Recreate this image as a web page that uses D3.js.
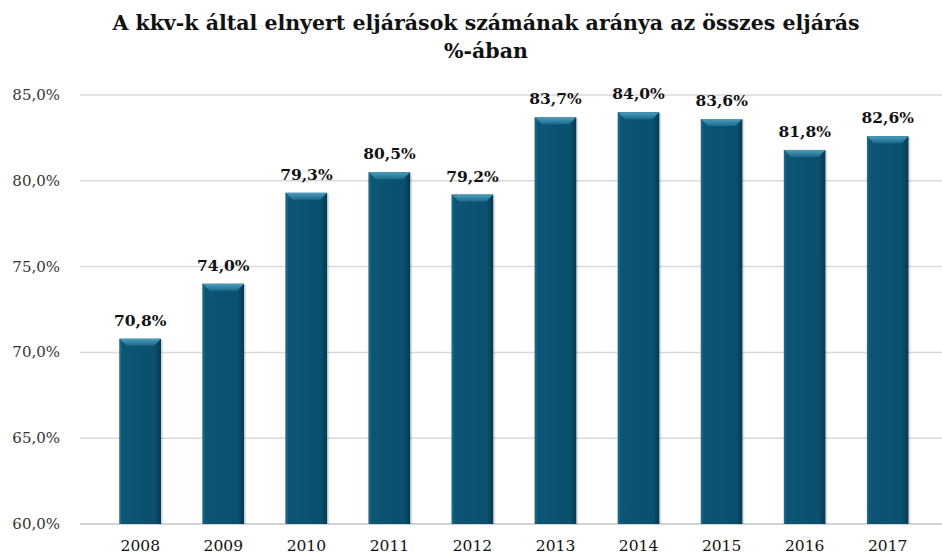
<!DOCTYPE html>
<html>
<head>
<meta charset="utf-8">
<script src="https://cdn.jsdelivr.net/npm/d3@7"></script>
<style>
  html, body { margin: 0; padding: 0; background: #fff; overflow: hidden; }
  svg { display: block; }
  svg text { font-family: "DejaVu Serif", "Liberation Serif", serif; }
</style>
</head>
<body>
<div id="chart"></div>
<script>
// Data
var years = ["2008", "2009", "2010", "2011", "2012", "2013", "2014", "2015", "2016", "2017"];
var shares = [70.8, 74.0, 79.3, 80.5, 79.2, 83.7, 84.0, 83.6, 81.8, 82.6];
var yTicks = [60, 65, 70, 75, 80, 85];
var titleLines = ["A kkv-k által elnyert eljárások számának aránya az összes eljárás", "%-ában"];

var width = 942, height = 557;
// plot area runs a bit past the right edge, like the original
var margin = { top: 95, left: 78 };
var innerWidth = 872;
var innerHeight = 429;

var fmt = function (v) { return v.toFixed(1).replace(".", ",") + "%"; };

var svg = d3.select("#chart").append("svg")
    .attr("width", width)
    .attr("height", height);

// gradients for the bevelled bar look
var defs = svg.append("defs");
var bevel = defs.append("linearGradient").attr("id", "bevel")
    .attr("x1", 0).attr("y1", 0).attr("x2", 0).attr("y2", 1);
bevel.append("stop").attr("offset", "0%").attr("stop-color", "#4d9dbb");
bevel.append("stop").attr("offset", "100%").attr("stop-color", "#1a6a8b");

var side = defs.append("linearGradient").attr("id", "side")
    .attr("x1", 0).attr("y1", 0).attr("x2", 1).attr("y2", 0);
side.append("stop").attr("offset", "0%").attr("stop-color", "#0c5676");
side.append("stop").attr("offset", "85%").attr("stop-color", "#0a506f");
side.append("stop").attr("offset", "100%").attr("stop-color", "#053950");

var g = svg.append("g")
    .attr("transform", "translate(" + margin.left + "," + margin.top + ")");

var x = d3.scaleBand().domain(years).range([0, innerWidth]).padding(0.5);
var y = d3.scaleLinear().domain([60, 85]).range([innerHeight, 0]);

// gridlines (clipped at the page edge)
g.selectAll(".grid")
    .data(yTicks)
    .enter().append("line")
    .attr("class", "grid")
    .attr("x1", 2).attr("x2", width - margin.left)
    .attr("y1", d => y(d)).attr("y2", d => y(d))
    .attr("stroke", d => d === 60 ? "#c4c4c4" : "#d9d9d9")
    .attr("stroke-width", 1.5);

// y tick labels
g.selectAll(".ytick")
    .data(yTicks)
    .enter().append("text")
    .attr("class", "ytick")
    .attr("x", -18)
    .attr("y", d => y(d) + 5)
    .attr("text-anchor", "end")
    .style("font-size", "15px")
    .style("fill", "#333")
    .text(d => fmt(d));

// bars
var bars = g.selectAll(".bar")
    .data(shares)
    .enter().append("g")
    .attr("class", "bar");

// soft shadow
bars.append("rect")
    .attr("x", (d, i) => x(years[i]) + 2)
    .attr("y", d => y(d) + 1)
    .attr("width", x.bandwidth())
    .attr("height", d => innerHeight - y(d) - 1)
    .attr("fill", "#000")
    .attr("opacity", 0.12);

bars.append("rect")
    .attr("x", (d, i) => x(years[i]))
    .attr("y", d => y(d))
    .attr("width", x.bandwidth())
    .attr("height", d => innerHeight - y(d))
    .attr("fill", "url(#side)");

// top bevel
bars.append("path")
    .attr("d", function (d, i) {
        var x0 = x(years[i]), x1 = x0 + x.bandwidth(), y0 = y(d), b = 7;
        return "M" + x0 + "," + y0 + "L" + x1 + "," + y0 + "L" + (x1 - b) + "," + (y0 + b) +
            "L" + (x0 + b) + "," + (y0 + b) + "Z";
    })
    .attr("fill", "url(#bevel)");

// left edge highlight
bars.append("path")
    .attr("d", function (d, i) {
        var x0 = x(years[i]), y0 = y(d), b = 2;
        return "M" + x0 + "," + y0 + "L" + (x0 + b) + "," + (y0 + b) + "L" + (x0 + b) + "," + innerHeight +
            "L" + x0 + "," + innerHeight + "Z";
    })
    .attr("fill", "#1c6788");

// value labels
g.selectAll(".label")
    .data(shares)
    .enter().append("text")
    .attr("class", "label")
    .attr("x", (d, i) => x(years[i]) + x.bandwidth() / 2)
    .attr("y", d => y(d) - 13)
    .attr("text-anchor", "middle")
    .style("font-size", "15.5px")
    .style("font-weight", "bold")
    .style("fill", "#111")
    .text(d => fmt(d));

// x labels
g.selectAll(".xtick")
    .data(years)
    .enter().append("text")
    .attr("class", "xtick")
    .attr("x", d => x(d) + x.bandwidth() / 2)
    .attr("y", innerHeight + 27)
    .attr("text-anchor", "middle")
    .style("font-size", "15.5px")
    .style("fill", "#111")
    .text(d => d);

// title
svg.selectAll(".title")
    .data(titleLines)
    .enter().append("text")
    .attr("class", "title")
    .attr("x", 486)
    .attr("y", (d, i) => 30 + i * 28)
    .attr("text-anchor", "middle")
    .style("font-size", "20.5px")
    .style("font-weight", "bold")
    .style("fill", "#111")
    .text(d => d);
</script>
</body>
</html>
